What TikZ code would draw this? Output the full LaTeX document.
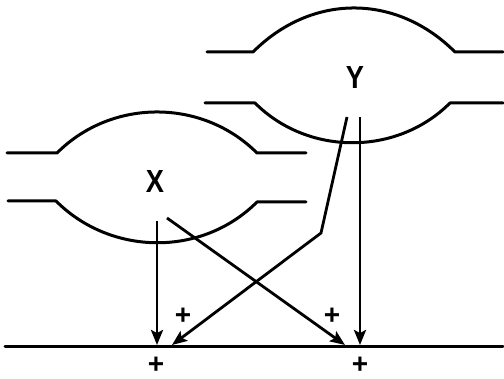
\documentclass[tikz,border=0pt]{standalone}
\usepackage{fontspec}
\setmainfont{Liberation Sans}
\usetikzlibrary{arrows.meta}
\tikzset{
  wall/.style={line width=3pt, line cap=round, line join=round},
  flow/.style={line width=2.8pt, line join=miter, -{Stealth[length=15pt,width=12pt,inset=3pt]}},
  lbl/.style={font=\bfseries\fontsize{32}{32}\selectfont, inner sep=0pt, xscale=0.85},
  sign/.style={font=\bfseries\fontsize{28}{28}\selectfont, inner sep=0pt}
}
\begin{document}
\begin{tikzpicture}[x=1pt,y=-1pt]
\useasboundingbox (0,0) rectangle (504,379);
% lens X
\draw[wall] (7,153) -- (57,153) .. controls (111.7,98.3) and (202.3,98.3) .. (257,153) -- (306,153);
\draw[wall] (8,201) -- (56,201) .. controls (111,256) and (202,257) .. (257,202) -- (306,202);
% lens Y
\draw[wall] (207,52) -- (253,52) .. controls (311.7,-6.7) and (396.3,-6.7) .. (455,52) -- (503,52);
\draw[wall] (205,103) -- (255,103) .. controls (308,156) and (397,156) .. (450,103) -- (503,103);
% baseline
\draw[wall] (5,347) -- (503,347);
% labels
\node[lbl] (X) at (155,181) {X};
\node[lbl] (Y) at (355,77) {Y};
% connector points
\coordinate (xa) at (157,221);
\coordinate (xb) at (167,218);
\coordinate (ya) at (347,117);
\coordinate (yk) at (321,233);
\coordinate (yb) at (360,117);
\coordinate (ta) at (157,345);
\coordinate (tb) at (345,345);
\coordinate (tc) at (172,345);
\coordinate (td) at (360,345);
\draw[flow] (xa) -- (ta);
\draw[flow] (xb) -- (tb);
\draw[flow] (ya) -- (yk) -- (tc);
\draw[flow] (yb) -- (td);
% signs
\node[sign] (p1) at (183,316) {+};
\node[sign] (p2) at (332,316) {+};
\node[sign] (p3) at (156,365) {+};
\node[sign] (p4) at (360,365) {+};
\end{tikzpicture}
\end{document}
